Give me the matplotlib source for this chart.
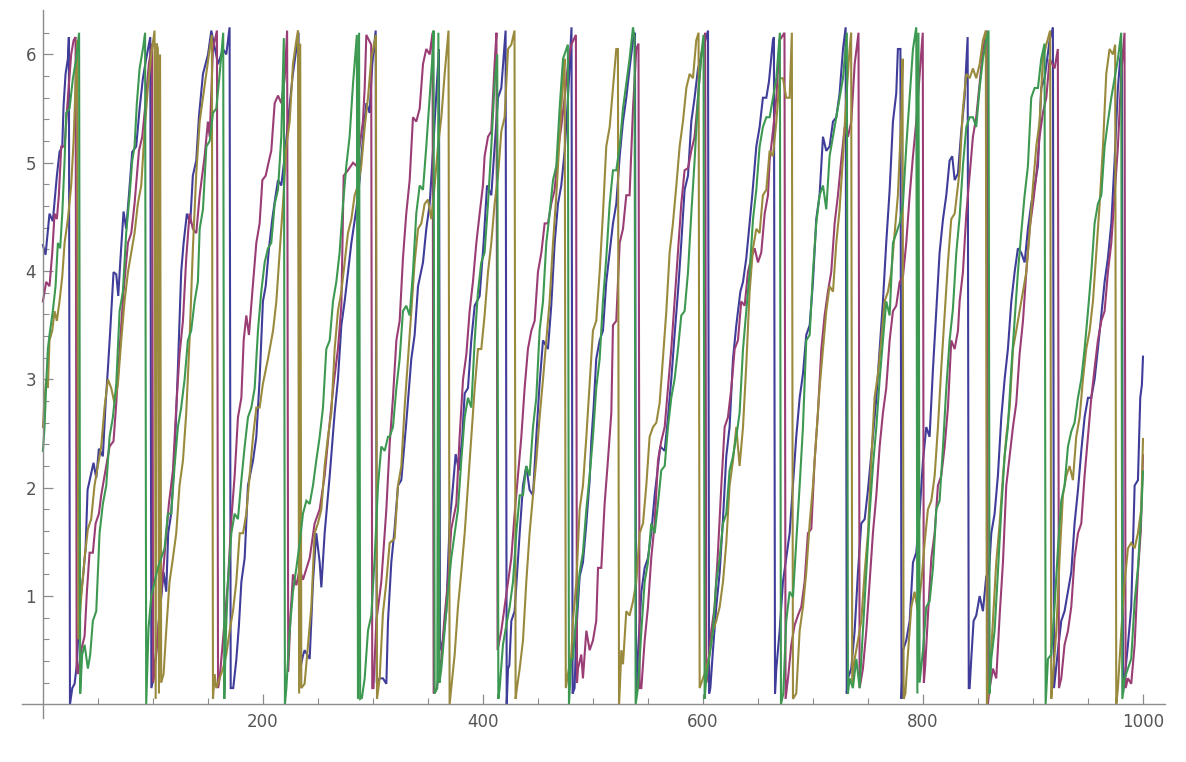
import matplotlib
matplotlib.use("Agg")
from matplotlib import pyplot as plt
from matplotlib.ticker import FixedLocator

# ─── data: phase of four oscillators (key points) ───
blue_pts = [
    (0, 4.24), (2.4, 4.15), (6, 4.53), (9, 4.46), (12.7, 4.88), (15.1, 5.1), (17.6, 5.15), (18.8, 5.53),
    (20.6, 5.82), (22.7, 5.96), (23.6, 6.16),
    (24.6, 0.0), (26.7, 0.15), (28.8, 0.19), (30.9, 0.37), (33.3, 0.9), (36.4, 1.17), (38.8, 1.44), (40.6, 1.98),
    (43, 2.09), (46, 2.23), (48.5, 2.09), (50.9, 2.36), (54.5, 2.29), (57, 2.78), (59.1, 3.1), (61.2, 3.45),
    (64.2, 3.99), (66.7, 3.97), (68.5, 3.77), (70.3, 4.08), (73.3, 4.55), (75.7, 4.39), (78.2, 4.7), (81.2, 5.1),
    (84.8, 5.15), (87.9, 5.5), (90.9, 5.78), (93.9, 5.96), (97.6, 6.16),
    (98.6, 0.15), (100.6, 0.24), (103, 0.5), (106, 0.82), (109.7, 1.22), (112.1, 1.04), (113.9, 1.58), (116.6, 1.76),
    (119.7, 2.29), (122.7, 3.1), (125.7, 3.99), (127.9, 4.26), (130.9, 4.53), (133.9, 4.44), (136.3, 4.88),
    (139.4, 5.02), (141.8, 5.42), (145.5, 5.82), (150.1, 6.0), (153.1, 6.22), (159.2, 5.91), (163.7, 6.05),
    (166.7, 6.0), (169.7, 6.25),
    (170.7, 0.15), (173, 0.15), (175.8, 0.41), (178.2, 0.73), (180.4, 1.13), (183.4, 1.35), (186.4, 2.02), (191, 2.25),
    (194, 2.47), (197, 3.0), (200, 3.72), (202.5, 3.86), (205.5, 4.21), (208.5, 4.48), (211.6, 4.7), (213.7, 4.84),
    (216.7, 4.79), (219.8, 5.06), (224, 5.5), (227, 5.8), (230.4, 6.05), (232.4, 6.2),
    (233.4, 0.3), (236.4, 0.45), (237.9, 0.5), (242.5, 0.42), (245.5, 1.13), (248.5, 1.58), (251.6, 1.31),
    (253.1, 1.08), (256.1, 1.58), (260.7, 2.11), (265.2, 2.69), (268.2, 3.0), (271.3, 3.5), (274.3, 3.72),
    (277.3, 3.99), (280.4, 4.26), (284.9, 4.57), (287.9, 4.84), (291, 5.24), (294, 5.55), (297, 5.46),
    (299.4, 5.91), (301.6, 6.13), (302.5, 6.22),
    (303.5, 0.2), (306.1, 0.24), (309.1, 0.24), (312.2, 0.19), (313.7, 0.77), (316.7, 1.31), (319.7, 1.62),
    (322.8, 2.02), (325.8, 2.07), (330.3, 2.6), (334.9, 3.19), (337.9, 3.41), (341, 3.86), (345.5, 4.08),
    (348.5, 4.39), (351.6, 4.62), (354.6, 5.11), (357.6, 5.64), (360, 6.05),
    (361, 0.5), (363.7, 0.59), (366.7, 0.86), (369.7, 1.67), (372.8, 2.02), (375.2, 2.31), (378.2, 2.16),
    (381.2, 2.47), (383.4, 2.87), (386.4, 2.92), (389.4, 3.36), (392.5, 3.68), (397, 3.77), (400.6, 4.26),
    (403.7, 4.79), (407.6, 4.7), (410.6, 5.15), (413.7, 5.6), (416.7, 5.69), (419.7, 6.09), (420.6, 6.22),
    (421.6, 0.0), (422.8, 0.33), (424, 0.36), (425.8, 0.77), (428.8, 0.86), (433.4, 1.58), (436.4, 2.02),
    (439.4, 2.2), (442.4, 1.98), (445.5, 1.93), (448.5, 2.47), (451.5, 2.96), (454.6, 3.36), (459.1, 3.28),
    (462.1, 3.68), (465.2, 4.26), (468.2, 4.62), (471.2, 4.79), (474.3, 5.11), (477.3, 5.6), (480.5, 6.25),
    (481.5, 0.1), (483.3, 0.15), (484.9, 0.68), (487.9, 1.18), (490.9, 1.31), (494, 1.67), (497, 2.07),
    (498.5, 2.43), (500.6, 2.74), (503, 3.19), (506.1, 3.36), (509.1, 3.45), (512.1, 3.9), (515.2, 4.17),
    (518.2, 4.44), (521.2, 4.62), (524.3, 5.06), (527.3, 5.38), (530.3, 5.6), (533.3, 5.87), (536.4, 6.13),
    (538.2, 6.2),
    (539.2, 0.1), (540.9, 0.46), (544, 1.04), (547, 1.26), (550, 1.35), (553, 1.58), (556.1, 1.93), (559.1, 2.2),
    (561.2, 2.38), (565.2, 2.34), (568.2, 2.65), (571.2, 3.0), (574.2, 3.41), (577.3, 3.81), (580.3, 4.26),
    (583.3, 4.75), (586.4, 4.88), (589.4, 5.38), (592.4, 5.6), (595.5, 5.87), (600, 6.05), (604.6, 6.22),
    (605.6, 0.1), (606.7, 0.15), (609.1, 0.5), (612.1, 0.9), (615.2, 1.22), (618.2, 1.71), (621.2, 2.29),
    (624.2, 2.56), (627.3, 3.19), (630.3, 3.5), (634, 3.81), (636.4, 3.9), (639.4, 4.12), (642.4, 4.44),
    (644.8, 4.7), (648.5, 5.15), (651.5, 5.33), (654.5, 5.6), (657.6, 5.6), (660, 5.75), (663.6, 6.13),
    (664.5, 6.16),
    (665.5, 0.1), (666.7, 0.33), (669.7, 0.68), (672.7, 1.13), (675.7, 1.35), (678.8, 1.58), (681.8, 2.02),
    (684.8, 2.47), (687.9, 2.83), (690.9, 3.05), (693.9, 3.41), (697, 3.5), (700, 3.9), (703, 4.48), (706, 4.7),
    (709.1, 5.24), (712.1, 5.11), (715.1, 5.15), (718.2, 5.38), (721.2, 5.42), (724.2, 5.64), (727.3, 6.05),
    (729.7, 6.25),
    (730.7, 0.1), (731.8, 0.24), (734.8, 0.33), (737.9, 0.68), (740.9, 1.22), (743.9, 1.67), (747, 1.71),
    (750, 1.98), (754.5, 2.47), (757.6, 2.83), (760.6, 3.28), (763.6, 3.72), (766.6, 4.26), (769.7, 4.75),
    (772.7, 5.38), (775.7, 5.64), (777.2, 6.05), (779.5, 6.05),
    (780.5, 0.05), (781.8, 0.5), (784.8, 0.59), (787.9, 0.77), (790.9, 1.31), (793.9, 1.4), (796.9, 1.76),
    (800, 2.25), (803, 2.56), (806, 2.47), (809.1, 3.1), (812.1, 3.63), (815.1, 4.17), (818.2, 4.48),
    (821.2, 4.7), (824.2, 5.02), (826.6, 5.06), (828.8, 4.84), (831.8, 4.9), (834.8, 5.29), (837.8, 5.6),
    (840.6, 6.16),
    (841.6, 0.15), (842.4, 0.15), (843.9, 0.42), (846, 0.77), (848.4, 0.82), (851.5, 1.0), (854.5, 0.86),
    (857.5, 1.18), (860, 1.22), (862.1, 1.58), (865.1, 1.76), (868.1, 2.11), (871.2, 2.65), (874.2, 3.0),
    (877.2, 3.28), (880.3, 3.72), (883.3, 3.99), (886.3, 4.21), (889.3, 4.17), (892.4, 4.08), (895.4, 4.39),
    (898.4, 4.62), (901.5, 4.79), (904.5, 4.97), (907.5, 5.69), (910.6, 5.78), (915.1, 6.13), (918.1, 6.25),
    (919.1, 0.15), (922.7, 0.5), (925.7, 0.77), (928.7, 0.86), (931.8, 1.04), (934.8, 1.22), (937.8, 1.67),
    (940.9, 1.98), (943.9, 2.34), (946.9, 2.65), (950, 2.83), (953, 2.83), (956, 3.0), (959, 3.28), (962.1, 3.59),
    (965.1, 3.9), (968.1, 4.12), (971.2, 4.44), (974.2, 5.02), (977.2, 5.69), (979.3, 5.96), (980.8, 6.05),
    (981.8, 0.1), (983.3, 0.24), (986.3, 0.55), (989.3, 0.9), (991, 1.5), (992.4, 2.02), (995.4, 2.07),
    (997.5, 2.83), (999, 2.95), (1000, 3.21),
]

maroon_pts = [
    (0, 3.72), (3, 3.9), (6, 3.86), (8.5, 4.17), (10.6, 4.53), (12.7, 4.48), (14.5, 4.7), (16.7, 5.15),
    (19.7, 5.15), (22.7, 5.6), (25.7, 6.0), (27.9, 6.13), (29.7, 6.16),
    (30.7, 0.33), (31.8, 0.28), (34.8, 0.5), (37.9, 0.63), (40, 1.04), (42.4, 1.4), (45.4, 1.4), (47.9, 1.67),
    (50.9, 1.76), (53, 1.93), (56, 2.11), (60.6, 2.38), (64.2, 2.43), (66.7, 2.78), (69.7, 3.28), (73.3, 3.81),
    (77.3, 4.26), (80.3, 4.35), (83.3, 4.62), (87.3, 5.11), (90.3, 5.24), (93.3, 5.55), (96.3, 5.91), (99.2, 6.1),
    (100.2, 0.2), (103, 0.46), (106, 0.86), (108.5, 1.13), (111.5, 1.49), (114.5, 1.85), (118.2, 2.16),
    (121.2, 2.74), (124.2, 3.23), (127.3, 3.54), (130.3, 4.12), (133.3, 4.53), (136.3, 4.39), (139.4, 4.35),
    (142.5, 4.7), (147, 5.06), (150, 5.38), (151.6, 5.24), (154.6, 6.05), (158.2, 6.22),
    (159.2, 0.15), (160.7, 0.24), (162.2, 0.42), (165.2, 0.77), (168.2, 1.13), (171.3, 1.71), (174.3, 2.11),
    (177.3, 2.65), (180.4, 2.83), (182.5, 3.36), (184.9, 3.59), (187.3, 3.41), (190.4, 3.81), (194, 4.26),
    (197, 4.44), (199.5, 4.84), (202.5, 4.88), (205.5, 5.02), (207.6, 5.11), (210.7, 5.55), (213.7, 5.62),
    (216.7, 5.55), (219.8, 5.78), (222, 6.22),
    (223, 0.3), (225, 0.8), (227.3, 1.2), (230.4, 1.1), (233.4, 1.25), (236.4, 1.15), (239.5, 1.25),
    (242.5, 1.35), (247, 1.67), (251.6, 1.8), (256.1, 2.11), (260.7, 2.6), (264.3, 2.96), (268.2, 3.28),
    (271.3, 3.68), (273.4, 4.88), (277.3, 4.93), (281.9, 5.0), (285, 4.97), (287.9, 5.15), (290.9, 5.38),
    (292.5, 5.69), (294, 6.18), (298.4, 6.09),
    (299.4, 0.15), (300.5, 0.15), (303.1, 0.77), (307.6, 1.13), (312.2, 1.8), (315.2, 2.4), (318.2, 2.83),
    (321.3, 3.36), (324.3, 3.54), (327.3, 4.12), (330.3, 4.53), (333.4, 4.84), (336.4, 5.42), (339.4, 5.38),
    (342.5, 5.5), (345.5, 5.91), (348.5, 6.05), (351.6, 6.0), (354.2, 6.2),
    (355.2, 0.1), (358, 0.15), (362.2, 0.42), (365.2, 0.82), (368.2, 1.13), (371.2, 1.62), (375.8, 1.85),
    (378.8, 2.47), (381.9, 3.0), (384.9, 3.23), (387.9, 3.63), (390.9, 3.9), (394, 4.26), (397, 4.53),
    (400, 4.79), (401.5, 5.06), (404.6, 5.24), (407.6, 5.29), (410.6, 5.91), (412.3, 6.2),
    (413.3, 0.5), (416.7, 0.68), (419.7, 0.9), (422.8, 1.13), (425.8, 1.35), (428.8, 1.76), (431.8, 2.11),
    (434.9, 2.47), (437.9, 2.92), (440.9, 3.28), (444, 3.45), (447, 3.54), (450, 3.99), (453.1, 4.17),
    (456.1, 4.44), (459.1, 4.44), (462.1, 4.62), (465.2, 4.75), (468.2, 5.11), (471.2, 5.33), (474.3, 5.6),
    (477.3, 5.91), (480.3, 6.09), (484.5, 6.18),
    (485.5, 0.2), (486.4, 0.33), (489.4, 0.46), (490.9, 0.24), (494, 0.68), (497, 0.5), (500, 0.59), (503, 0.77),
    (504.6, 1.26), (507.6, 1.26), (510.6, 1.85), (513.6, 2.25), (516.7, 2.69), (518.2, 3.5), (521.2, 3.54),
    (524.3, 4.26), (527.3, 4.39), (530.3, 4.7), (533.3, 4.7), (536.4, 5.5), (539.4, 6.05), (541.4, 6.1),
    (542.4, 0.15), (544, 0.15), (547, 0.59), (550, 0.9), (553, 1.35), (556.1, 1.67), (559.1, 2.25), (562.1, 2.43),
    (565.2, 2.56), (568.2, 2.92), (571.2, 3.28), (574.2, 3.72), (577.3, 4.17), (580.3, 4.62), (583.3, 4.93),
    (586.4, 4.95), (589.4, 5.11), (592.4, 5.24), (595.5, 5.6), (598.5, 6.0), (602, 6.2),
    (603, 0.2), (604.5, 0.33), (607.6, 0.68), (610.6, 0.9), (613.6, 1.4), (616.7, 2.02), (619.7, 2.56),
    (622.7, 2.65), (625.8, 2.92), (628.8, 3.28), (631.8, 3.36), (634.8, 3.72), (637.9, 3.68), (640.9, 3.99),
    (643.9, 4.12), (647, 4.21), (650, 4.08), (653, 4.17), (656.1, 4.53), (659.1, 4.7), (660.6, 5.02),
    (663.6, 5.29), (666.7, 5.6), (669.7, 6.13), (674.1, 6.2),
    (675.1, 0.05), (677.3, 0.24), (680.3, 0.55), (683.3, 0.73), (686.3, 0.82), (689.4, 0.9), (692.4, 1.13),
    (695.4, 1.58), (698.5, 1.62), (701.5, 2.25), (704.5, 2.69), (707.6, 3.28), (710.6, 3.59), (713.6, 3.81),
    (716.6, 3.99), (719.7, 4.44), (722.7, 4.7), (725.7, 5.02), (728.8, 5.33), (731.8, 5.24), (734.8, 5.38),
    (737.9, 5.91), (741.4, 6.2),
    (742.4, 0.15), (745.4, 0.33), (748.5, 0.68), (751.5, 1.13), (754.5, 1.58), (757.6, 1.93), (760.6, 2.38),
    (763.6, 2.69), (766.6, 2.92), (769.7, 3.36), (772.7, 3.63), (775.7, 3.68), (778.8, 3.9), (781.8, 3.95),
    (784.8, 4.26), (787.9, 4.7), (790.9, 5.06), (793.9, 5.38), (797, 5.82), (799.8, 6.2),
    (800.8, 0.2), (802, 0.35), (804.5, 0.82), (807.6, 1.35), (810.6, 1.58), (813.6, 2.02), (816.6, 2.11),
    (819.7, 2.38), (822.7, 2.74), (825.7, 3.36), (828.8, 3.28), (831.8, 3.45), (833.3, 3.72), (836.3, 3.99),
    (839.4, 4.53), (842.4, 4.88), (845.4, 5.24), (848.4, 5.42), (851.5, 5.73), (854.5, 6.05), (858, 6.22),
    (859, 0.0), (860.6, 0.15), (863.6, 0.33), (866.6, 0.24), (869.7, 0.82), (872.7, 1.31), (875.7, 2.02),
    (878.8, 2.29), (881.8, 2.56), (884.8, 2.78), (887.8, 3.23), (890.9, 3.54), (893.9, 3.99), (896.9, 4.39),
    (900, 4.62), (903, 4.88), (906, 5.24), (909, 5.46), (912.1, 5.6), (915.1, 5.96), (919.6, 5.87), (922.6, 6.05),
    (923.6, 0.15), (925.7, 0.24), (928.7, 0.55), (931.8, 0.68), (934.8, 0.9), (937.8, 1.35), (940.9, 1.58),
    (943.9, 1.67), (946.9, 2.11), (950, 2.47), (953, 2.83), (956, 3.1), (959, 3.36), (962.1, 3.54), (965.1, 3.63),
    (968.1, 3.99), (971.2, 4.26), (974.2, 4.7), (977.2, 5.15), (980.3, 5.82), (983.2, 6.2),
    (984.2, 0.15), (986.3, 0.24), (989.3, 0.19), (992.4, 0.55), (995.4, 1.22), (998, 1.6), (1000, 2.3),
]

olive_pts = [
    (0, 2.56), (1.5, 2.83), (3, 3.0), (4.5, 2.92), (6, 3.36), (8.5, 3.45), (10.6, 3.63), (12.7, 3.54),
    (15.1, 3.72), (17.6, 3.95), (19.7, 4.26), (22.7, 4.48), (25.7, 4.79), (27.9, 5.2), (29.7, 5.73), (31.2, 6.13),
    (32.2, 0.6), (34.8, 0.99), (37.9, 1.35), (40.9, 1.62), (43.9, 1.71), (46.9, 2.02), (50, 2.2), (53, 2.38),
    (56, 2.74), (59.1, 3.0), (62.1, 2.92), (65.1, 2.78), (68.2, 2.96), (71.2, 3.36), (74.2, 3.72), (77.3, 3.99),
    (80.3, 4.17), (83.3, 4.35), (86.3, 4.62), (89.4, 4.79), (92.4, 5.29), (95.4, 5.69), (98.5, 6.0), (101.5, 6.22),
    (102.5, 0.05), (103.5, 6.1), (104.5, 6.05), (105.5, 0.1), (106.5, 6.0), (107.5, 0.2), (109.7, 0.28),
    (112.1, 0.68), (115.1, 1.13), (118.2, 1.35), (121.2, 1.58), (124.2, 2.02), (127.3, 2.25), (130.3, 2.69),
    (133.3, 3.36), (136.3, 4.2), (139.4, 4.9), (142.5, 5.38), (145.5, 5.6), (148.6, 5.82), (151.6, 6.05),
    (153.6, 6.18),
    (154.6, 0.05), (156.1, 0.28), (157.6, 0.15), (160.7, 0.24), (163.7, 0.33), (166.7, 0.46), (169.8, 0.68),
    (172.8, 0.86), (175.8, 1.13), (178.9, 1.58), (181.9, 1.58), (184.9, 1.76), (187.9, 2.11), (191, 2.47),
    (194, 2.74), (197, 2.74), (200, 2.96), (204.6, 3.19), (209.2, 3.45), (212.2, 3.72), (215.2, 4.17),
    (218.2, 4.62), (221.3, 5.15), (224.3, 5.38), (227.3, 5.91), (230.4, 6.13), (231.9, 6.22),
    (232.9, 0.1), (233.9, 6.1), (234.9, 0.15), (237.9, 0.19), (241, 0.55), (244, 0.9), (247, 1.58), (250, 1.67),
    (253.1, 1.8), (256.1, 2.2), (259.1, 2.47), (262.2, 2.69), (265.2, 3.28), (268.2, 3.63), (271.3, 3.81),
    (274.3, 4.08), (277.3, 4.35), (280.4, 4.48), (283.4, 4.7), (286.4, 4.79), (289.4, 4.97), (292.5, 5.33),
    (295.5, 5.6), (298.5, 5.96), (302.7, 6.18),
    (303.7, 0.05), (306.1, 0.24), (309.1, 0.84), (312.2, 1.13), (315.2, 1.49), (319.7, 1.53), (322.8, 2.02),
    (325.8, 2.2), (328.8, 2.74), (331.9, 3.19), (334.9, 3.63), (337.9, 4.08), (341, 4.39), (344, 4.44),
    (347, 4.62), (350, 4.66), (353.1, 4.48), (356.1, 4.79), (359.1, 5.15), (362.2, 5.42), (365.2, 5.82),
    (368.7, 6.22),
    (369.7, 0.0), (371.2, 0.15), (374.3, 0.46), (377.3, 0.9), (380.3, 1.22), (383.4, 1.58), (386.4, 2.02),
    (389.4, 2.47), (392.5, 2.92), (395.5, 3.28), (398.5, 3.28), (401.5, 3.59), (404.6, 3.99), (407.6, 4.26),
    (410.6, 4.62), (413.7, 4.88), (416.7, 5.29), (419.7, 5.42), (422.8, 6.05), (425.8, 6.09), (428.7, 6.22),
    (429.7, 0.05), (430.9, 0.15), (433.4, 0.33), (436.4, 0.59), (439.4, 1.13), (442.4, 1.58), (445.5, 1.93),
    (448.5, 2.25), (451.5, 2.65), (454.6, 3.0), (457.6, 3.36), (460.6, 3.72), (463.7, 4.26), (466.7, 4.7),
    (469.7, 5.24), (472.8, 5.78), (474.3, 5.96),
    (475.3, 0.15), (477.3, 0.28), (480.3, 0.46), (481.8, 0.77), (484.9, 1.13), (487.9, 1.8), (490.9, 2.02),
    (494, 2.47), (497, 2.96), (500, 3.45), (503, 3.54), (506.1, 3.99), (509.1, 4.53), (512.1, 5.15),
    (515.2, 5.33), (518.2, 5.69), (521.2, 6.05), (522.7, 6.05),
    (523.7, 0.0), (524.8, 0.24), (525.8, 0.5), (527.3, 0.37), (530.3, 0.86), (533.3, 0.82), (536.4, 0.95),
    (539.4, 1.13), (542.4, 1.58), (545.5, 1.67), (548.5, 2.02), (551.5, 2.47), (554.6, 2.56), (557.6, 2.6),
    (560.6, 2.78), (563.6, 3.19), (566.7, 3.63), (569.7, 4.17), (572.7, 4.44), (575.8, 4.79), (578.8, 5.15),
    (581.8, 5.38), (584.9, 5.69), (587.9, 5.82), (590.9, 5.78), (593.9, 6.13), (596, 6.2),
    (597, 0.15), (600, 0.24), (603, 0.33), (606, 0.46), (609.1, 0.68), (612.1, 0.77), (615.2, 0.9), (618.2, 1.13),
    (621.2, 1.49), (624.2, 2.02), (627.3, 2.25), (630.3, 2.56), (633.3, 2.2), (636.4, 2.56), (639.4, 3.14),
    (642.4, 3.81), (645.5, 4.21), (648.5, 4.39), (651.5, 4.35), (654.5, 4.7), (657.6, 4.75), (660.6, 5.11),
    (663.6, 5.06), (666.7, 5.38), (669.7, 5.78), (672.7, 5.78), (675.7, 5.6), (678.8, 5.6), (680.8, 6.2),
    (681.8, 0.05), (684.8, 0.1), (687.9, 0.68), (690.9, 0.9), (693.9, 1.22), (697, 1.67), (700, 2.02), (703, 2.47),
    (706, 2.92), (709.1, 3.28), (712.1, 3.63), (715.1, 3.86), (718.2, 3.81), (721.2, 4.26), (724.2, 4.57),
    (727.3, 5.06), (730.3, 5.6), (733.3, 6.05), (734.7, 6.2),
    (735.7, 0.2), (737.9, 0.42), (740.9, 0.59), (743.9, 0.77), (747, 1.22), (750, 1.58), (753, 2.25), (756, 2.83),
    (759.1, 3.05), (762.1, 3.36), (765.1, 3.72), (768.2, 3.81), (771.2, 3.99), (774.2, 4.35), (777.2, 4.7),
    (780.3, 5.42), (781.4, 5.96),
    (782.4, 0.05), (784, 0.1), (786.3, 0.46), (789.4, 0.9), (792.4, 1.04), (795.4, 0.86), (798.5, 1.13),
    (801.5, 1.49), (804.5, 1.8), (807.6, 1.88), (810.6, 2.11), (813.6, 2.56), (816.6, 3.1), (819.7, 3.59),
    (822.7, 4.08), (825.7, 4.48), (828.8, 4.53), (831.8, 4.79), (833.3, 4.93), (836.3, 5.5), (839.4, 5.82),
    (842.4, 5.78), (845.4, 5.87), (848.4, 5.78), (851.5, 5.91), (854.5, 6.13), (857.1, 6.22),
    (858.1, 0.0), (860.6, 0.24), (863.6, 0.77), (866.6, 1.31), (869.7, 1.67), (872.7, 2.11), (875.7, 2.47),
    (878.8, 2.74), (881.8, 3.28), (884.8, 3.45), (887.8, 3.63), (890.9, 3.81), (893.9, 3.99), (896.9, 4.35),
    (900, 4.79), (903, 5.15), (906, 5.38), (909, 5.96), (912.1, 6.09), (915.6, 6.22),
    (916.6, 0.05), (918.1, 0.24), (921.2, 0.68), (924.2, 1.35), (927.2, 1.93), (930.3, 2.11), (933.3, 2.2),
    (936.3, 2.07), (939.3, 2.47), (942.4, 2.65), (945.4, 3.0), (948.4, 3.28), (951.5, 3.45), (954.5, 3.72),
    (957.5, 4.17), (960.6, 4.62), (963.6, 5.15), (966.6, 5.82), (969.6, 6.05), (972.7, 6.0), (974.7, 6.09),
    (975.7, 0.0), (977.2, 0.15), (980.3, 0.68), (983.3, 1.13), (986.3, 1.44), (989.3, 1.49), (992.4, 1.44),
    (995.4, 1.58), (998.4, 1.8), (1000, 2.45),
]

green_pts = [
    (0, 2.34), (1.5, 2.56), (3, 2.96), (4.5, 3.28), (6, 3.41), (9, 3.63), (11.5, 3.86), (13.6, 4.26),
    (15.7, 4.21), (17.6, 4.53), (19.7, 5.02), (21.2, 5.46), (24.2, 5.5), (27.3, 5.78), (30.3, 5.96), (32.9, 6.2),
    (33.9, 0.1), (35.7, 0.46), (37.9, 0.55), (40.9, 0.33), (43, 0.46), (45.4, 0.77), (48.5, 0.86), (51.5, 1.58),
    (54.5, 1.85), (57.6, 2.02), (60.6, 2.47), (63.6, 2.65), (66.7, 2.96), (69.7, 3.63), (72.7, 3.81),
    (75.7, 4.35), (78.8, 4.7), (81.2, 5.02), (83.3, 5.15), (85.4, 5.55), (87.9, 5.87), (90.9, 6.05), (92.9, 6.2),
    (93.9, 0.0), (96, 0.7), (98.5, 1.0), (101.5, 1.13), (104.5, 1.26), (107.6, 1.35), (110.6, 1.44),
    (113.6, 1.76), (116.6, 1.76), (119.7, 2.2), (122.7, 2.56), (125.7, 2.74), (128.8, 3.0), (131.8, 3.36),
    (134.8, 3.45), (137.9, 3.72), (140.9, 3.9), (142.5, 4.39), (145.5, 4.57), (148.6, 5.15), (151.6, 5.2),
    (154.6, 5.46), (157.6, 5.5), (160.7, 5.82), (163.9, 6.2),
    (164.9, 0.05), (166.5, 0.7), (168.2, 1.13), (171.3, 1.58), (174.3, 1.76), (177.3, 1.71), (180.4, 2.07),
    (183.4, 2.38), (186.4, 2.65), (189.5, 2.74), (192.5, 2.92), (195.5, 3.45), (198.5, 3.81), (201.6, 4.08),
    (204.6, 4.21), (207.6, 4.26), (210.7, 4.62), (213.7, 4.75), (216.7, 5.24), (219, 6.15),
    (220, 0.0), (221.3, 0.15), (224.3, 0.68), (227.3, 1.04), (230.4, 1.26), (233.4, 1.49), (236.4, 1.76),
    (239.5, 1.88), (242.5, 1.85), (245.5, 2.02), (248.5, 2.25), (251.6, 2.47), (254.6, 2.74), (257.6, 3.28),
    (260.7, 3.36), (263.7, 3.72), (266.7, 3.9), (269.7, 4.17), (272.8, 4.62), (275.8, 4.97), (278.8, 5.24),
    (281.9, 5.73), (285.4, 6.18),
    (286.4, 0.05), (287.4, 6.2), (288.4, 0.05), (290, 0.06), (292.5, 0.24), (295.5, 0.68), (298.5, 0.82),
    (301.6, 1.35), (304.6, 2.02), (307.6, 2.38), (310.7, 2.34), (313.7, 2.47), (315.2, 2.47), (318.2, 2.56),
    (321.3, 2.92), (324.3, 3.19), (327.3, 3.63), (330.3, 3.68), (333.4, 3.59), (336.4, 3.99), (339.4, 4.53),
    (342.5, 4.79), (345.5, 4.75), (348.5, 5.15), (351.6, 5.6), (354.6, 6.05), (355.1, 6.22),
    (356.1, 0.1), (358.5, 0.15), (359.5, 6.2), (360.5, 0.2), (362.2, 0.33), (365.2, 0.68), (368.2, 1.04),
    (371.2, 1.35), (374.3, 1.58), (377.3, 1.8), (380.3, 2.25), (383.4, 2.65), (386.4, 2.83), (389.4, 2.74),
    (392.5, 3.36), (395.5, 3.81), (398.5, 4.08), (401.5, 4.17), (404.6, 4.62), (407.6, 5.15), (410.6, 5.73),
    (413, 6.0),
    (414, 0.05), (415.2, 0.15), (418.2, 0.55), (421.2, 0.73), (424.3, 0.9), (427.3, 1.13), (430.3, 1.58),
    (433.4, 1.93), (436.4, 1.93), (439.4, 2.2), (442.4, 2.11), (445.5, 2.56), (448.5, 2.83), (451.5, 3.45),
    (454.6, 3.72), (457.6, 4.26), (460.6, 4.53), (463.7, 4.84), (466.7, 4.97), (469.7, 5.5), (472.8, 5.96),
    (477.2, 6.09),
    (478.2, 0.0), (480.3, 0.42), (481.8, 0.42), (484.9, 0.82), (487.9, 1.22), (490.9, 1.4), (494, 1.8),
    (497, 2.11), (500, 2.47), (503, 2.92), (506.1, 3.19), (509.1, 3.72), (512.1, 4.12), (515.2, 4.62),
    (518.2, 4.93), (521.2, 4.93), (524.3, 5.15), (527.3, 5.5), (530.3, 5.73), (533.3, 5.96), (536.4, 6.25),
    (537.8, 6.15),
    (538.8, 0.0), (540.9, 0.15), (544, 0.68), (547, 1.13), (550, 1.31), (553, 1.67), (556.1, 1.58), (559.1, 1.85),
    (562.1, 2.16), (565.2, 2.2), (568.2, 2.56), (571.2, 2.83), (574.2, 3.0), (577.3, 3.28), (580.3, 3.59),
    (583.3, 3.63), (586.4, 3.99), (589.4, 4.53), (592.4, 5.02), (595.5, 5.6), (598.5, 6.0), (600.5, 6.18),
    (601.5, 0.05), (603, 0.24), (606, 0.46), (609.1, 0.68), (612.1, 1.13), (615.2, 1.35), (618.2, 1.67),
    (621.2, 1.76), (624.2, 2.16), (627.3, 2.29), (630.3, 2.47), (633.3, 2.69), (636.4, 3.28), (639.4, 3.63),
    (642.4, 3.99), (645.5, 4.48), (648.5, 4.75), (651.5, 5.15), (654.5, 5.33), (657.6, 5.42), (660.6, 5.42),
    (663.6, 5.6), (666.7, 5.78), (669.9, 6.2),
    (670.9, 0.0), (673, 0.1), (675.7, 0.77), (678.8, 1.04), (681.8, 0.99), (684.8, 1.49), (687.9, 2.02),
    (690.9, 2.56), (693.9, 3.36), (697, 3.41), (700, 3.99), (703, 4.44), (706, 4.7), (709.1, 4.79),
    (712.1, 4.57), (715.1, 5.06), (718.2, 5.24), (721.2, 5.42), (724.2, 5.6), (727.3, 5.78), (730.8, 6.2),
    (731.8, 0.1), (733.3, 0.24), (736.3, 0.15), (739.4, 0.42), (742.4, 0.15), (745.4, 0.68), (748.5, 1.22),
    (751.5, 1.76), (754.5, 2.2), (757.6, 2.56), (760.6, 3.0), (763.6, 3.36), (766.6, 3.72), (769.7, 3.59),
    (772.7, 4.26), (775.7, 4.35), (778.8, 4.44), (781.8, 4.62), (784.8, 5.15), (787.9, 5.6), (790.9, 6.05),
    (793.9, 6.25),
    (794.9, 0.1), (795.9, 6.2), (796.9, 0.2), (800, 0.5), (803, 0.9), (806, 0.95), (809.1, 1.26), (812.1, 1.8),
    (815.1, 1.88), (818.2, 2.38), (821.2, 2.92), (824.2, 3.36), (827.2, 3.65), (830.3, 4.17), (833.3, 4.5),
    (836.3, 4.97), (839.4, 5.33), (842.4, 5.42), (845.4, 5.42), (848.4, 5.33), (851.5, 5.69), (854.5, 5.96),
    (857.5, 6.13), (859.6, 6.22),
    (860.6, 0.1), (862.1, 0.42), (865.1, 0.68), (868.1, 1.22), (871.2, 1.8), (874.2, 2.29), (877.2, 2.56),
    (880.3, 3.1), (883.3, 3.54), (886.3, 3.99), (889.3, 4.35), (892.4, 4.7), (895.4, 4.97), (898.4, 5.6),
    (901.5, 5.69), (904.5, 5.69), (907.5, 5.96), (910.5, 6.1),
    (911.5, 0.0), (913.6, 0.42), (916.6, 0.46), (919.6, 0.9), (922.7, 1.44), (925.7, 1.88), (928.7, 2.02),
    (931.8, 2.38), (934.8, 2.52), (937.8, 2.6), (940.9, 2.83), (943.9, 3.0), (946.9, 3.28), (950, 3.63),
    (953, 3.99), (956, 4.44), (959, 4.62), (962.1, 4.7), (965.1, 5.15), (968.1, 5.38), (971.2, 5.6),
    (974.2, 5.78), (977.2, 5.96), (980.2, 6.2),
    (981.2, 0.05), (983.3, 0.24), (986.3, 0.33), (989.3, 0.42), (992.4, 0.95), (995.4, 1.26), (998.4, 1.76),
    (1000, 2.15),
]

x_major = [200, 400, 600, 800, 1000]
y_major = [1, 2, 3, 4, 5, 6]

# Mathematica default palette (Hue[h, 0.6, 0.6])
series = [
    (blue_pts, "#3F3D99"),
    (maroon_pts, "#993D74"),
    (olive_pts, "#998A3D"),
    (green_pts, "#3D9951"),
]

# ─── figure ─────────────────────────────────────────────────────
fig = plt.figure(figsize=(11.86, 7.62), dpi=100)
ax = fig.add_axes([22 / 1186, 44 / 762, 1143 / 1186, 708 / 762])

for pts, col in series:
    xs = [p[0] for p in pts]
    ys = [p[1] for p in pts]
    ax.plot(xs, ys, color=col, lw=1.5, solid_joinstyle="miter")

ax.set_xlim(-19, 1020)
ax.set_ylim(-0.126, 6.41)

axis_col = "#8c8c8c"
for side in ["top", "right"]:
    ax.spines[side].set_visible(False)
for side in ["left", "bottom"]:
    ax.spines[side].set_position(("data", 0))
    ax.spines[side].set_color(axis_col)
    ax.spines[side].set_linewidth(1.0)

ax.xaxis.set_major_locator(FixedLocator(x_major))
ax.yaxis.set_major_locator(FixedLocator(y_major))
ax.xaxis.set_minor_locator(FixedLocator([m for m in range(50, 1001, 50) if m not in x_major]))
ax.yaxis.set_minor_locator(FixedLocator([round(0.2 * k, 1) for k in range(1, 32) if k % 5 != 0]))

ax.tick_params(which="major", direction="in", length=7, width=0.9, color=axis_col,
               labelcolor="#555555", labelsize=12, pad=5)
ax.tick_params(which="minor", direction="in", length=4, width=0.8, color=axis_col)
ax.tick_params(axis="x", which="major", pad=6)

fig.savefig("out.png", dpi=100)
